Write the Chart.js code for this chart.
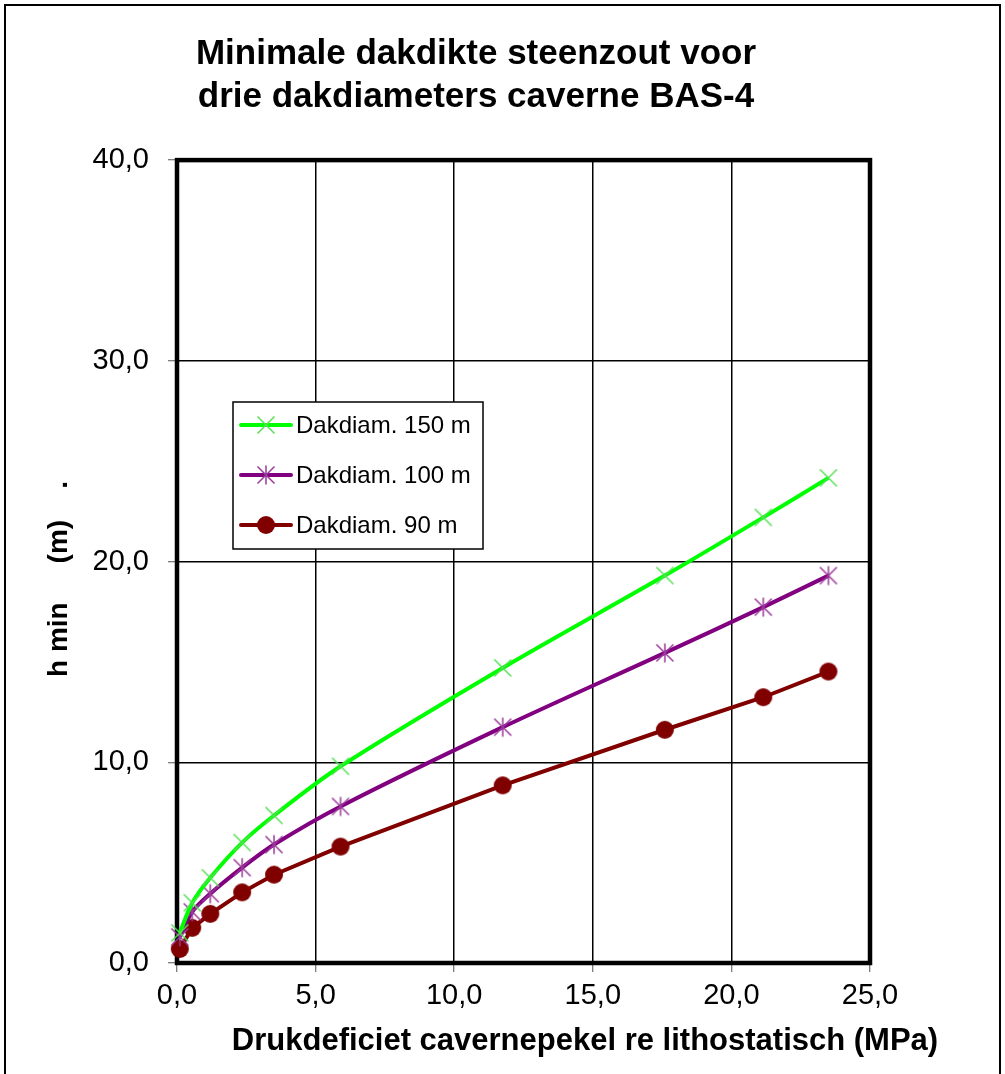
<!DOCTYPE html>
<html>
<head>
<meta charset="utf-8">
<script src="https://cdn.jsdelivr.net/npm/chart.js@4.4.1/dist/chart.umd.min.js"></script>
<style>
  html, body { margin: 0; padding: 0; background: #fff; }
  canvas { display: block; }
</style>
</head>
<body>
<canvas id="c" width="1005" height="1074"></canvas>
<script>
// Texts
const titleLines = ['Minimale dakdikte steenzout voor', 'drie dakdiameters caverne BAS-4'];
const xTitle = 'Drukdeficiet cavernepekel re lithostatisch (MPa)';
const yTitle = 'h min     (m)    .';
const seriesLabels = ['Dakdiam. 150 m', 'Dakdiam. 100 m', 'Dakdiam. 90 m'];

// Pressure deficit (MPa) and minimum roof thickness (m) per roof diameter
const drukdeficiet = [0.1, 0.55, 1.2, 2.35, 3.5, 5.9, 11.75, 17.6, 21.15, 23.5];
const hmin150 = [1.5, 3.0, 4.25, 6.0, 7.35, 9.8, 14.7, 19.3, 22.2, 24.17];
const hmin100 = [1.3, 2.55, 3.45, 4.75, 5.9, 7.8, 11.75, 15.45, 17.73, 19.3];
const hmin90  = [0.7, 1.75, 2.45, 3.52, 4.4, 5.8, 8.85, 11.62, 13.24, 14.52];

// Axis ticks
const xTicks = [0, 5, 10, 15, 20, 25];
const yTicks = [0, 10, 20, 30, 40];

const FONT = "'Liberation Sans', Arial, Helvetica, sans-serif";

function toPoints(xs, ys) { return xs.map((x, i) => ({ x: x, y: ys[i] })); }
function fmt(v) { return Number(v).toFixed(1).replace('.', ','); }

// Marker glyphs
function makeMarker(kind, color) {
  const s = 26, c = document.createElement('canvas');
  c.width = s; c.height = s;
  const g = c.getContext('2d');
  const m = s / 2;
  g.strokeStyle = color; g.fillStyle = color; g.lineWidth = 1.5;
  if (kind === 'x' || kind === 'star') {
    const r = 8.5;
    g.beginPath();
    g.moveTo(m - r, m - r); g.lineTo(m + r, m + r);
    g.moveTo(m + r, m - r); g.lineTo(m - r, m + r);
    if (kind === 'star') { g.moveTo(m, m - r - 1); g.lineTo(m, m + r + 1); }
    g.stroke();
  } else {
    g.beginPath(); g.arc(m, m, 9, 0, Math.PI * 2); g.fill();
  }
  return c;
}

const colors = ['#00ff00', '#800080', '#800000'];
const markers = [
  makeMarker('x', '#55e055'),
  makeMarker('star', '#9a3a9a'),
  makeMarker('dot', '#800000')
];
const seriesValues = [hmin150, hmin100, hmin90];
const tensions = [0.3, 0.3, 0];

const datasets = seriesLabels.map((label, i) => ({
  label: label,
  data: toPoints(drukdeficiet, seriesValues[i]),
  borderColor: colors[i],
  backgroundColor: colors[i],
  borderWidth: 4,
  pointStyle: markers[i],
  pointRadius: 9,
  pointHoverRadius: 9,
  tension: tensions[i],
  clip: false
}));

// White page with an outer frame
const pagePlugin = {
  id: 'page',
  beforeDraw(chart) {
    const ctx = chart.ctx;
    ctx.save();
    ctx.fillStyle = '#fff';
    ctx.fillRect(0, 0, chart.width, chart.height);
    ctx.strokeStyle = '#000';
    ctx.lineWidth = 2;
    ctx.strokeRect(5, 5, 995, 1100);
    ctx.restore();
  }
};

// Heavy frame round the plot area, under the series
const plotFramePlugin = {
  id: 'plotFrame',
  beforeDatasetsDraw(chart) {
    const a = chart.chartArea, ctx = chart.ctx;
    ctx.save();
    ctx.strokeStyle = '#000';
    ctx.lineWidth = 4.5;
    ctx.strokeRect(a.left, a.top, a.right - a.left, a.bottom - a.top);
    ctx.restore();
  }
};

// Axis titles
const axisTitlePlugin = {
  id: 'axisTitles',
  afterDraw(chart) {
    const ctx = chart.ctx;
    ctx.save();
    ctx.fillStyle = '#000';
    ctx.font = 'bold 31px ' + FONT;
    ctx.textAlign = 'center';
    ctx.textBaseline = 'middle';
    ctx.fillText(xTitle, 585, 1041);
    ctx.font = 'bold 28px ' + FONT;
    ctx.translate(67, 677);
    ctx.rotate(-Math.PI / 2);
    ctx.textAlign = 'left';
    ctx.textBaseline = 'alphabetic';
    ctx.fillText(yTitle, 0, 0);
    ctx.restore();
  }
};

// Boxed legend inside the plot area
const boxLegendPlugin = {
  id: 'boxLegend',
  afterDraw(chart) {
    const ctx = chart.ctx;
    const bx = 233, by = 402, bw = 250, bh = 147;
    ctx.save();
    ctx.fillStyle = '#fff';
    ctx.fillRect(bx, by, bw, bh);
    ctx.strokeStyle = '#000';
    ctx.lineWidth = 1.5;
    ctx.strokeRect(bx, by, bw, bh);
    chart.data.datasets.forEach((ds, i) => {
      const y = 425 + 50 * i;
      ctx.strokeStyle = ds.borderColor;
      ctx.lineWidth = 4;
      ctx.lineCap = 'round';
      ctx.beginPath();
      ctx.moveTo(241, y); ctx.lineTo(291, y);
      ctx.stroke();
      const mk = ds.pointStyle;
      ctx.drawImage(mk, 266 - mk.width / 2, y - mk.height / 2);
      ctx.fillStyle = '#000';
      ctx.font = '24px ' + FONT;
      ctx.textAlign = 'left';
      ctx.textBaseline = 'middle';
      ctx.fillText(ds.label, 296, y + 1);
    });
    ctx.restore();
  }
};

new Chart(document.getElementById('c'), {
  type: 'line',
  data: { datasets: datasets },
  plugins: [pagePlugin, plotFramePlugin, axisTitlePlugin, boxLegendPlugin],
  options: {
    responsive: false,
    animation: false,
    devicePixelRatio: 1,
    layout: { padding: { left: 82, right: 135, top: 0, bottom: 0 } },
    plugins: {
      legend: { display: false },
      tooltip: { enabled: false },
      title: {
        display: true,
        text: titleLines,
        color: '#000',
        font: { family: FONT, size: 35, weight: 'bold', lineHeight: 1.23 },
        padding: { top: 33, bottom: 41 }
      }
    },
    scales: {
      x: {
        type: 'linear',
        min: xTicks[0],
        max: xTicks[xTicks.length - 1],
        afterBuildTicks(scale) { scale.ticks = xTicks.map(v => ({ value: v })); },
        afterFit(scale) { scale.height = 111; },
        border: { display: false },
        grid: { color: '#000', lineWidth: 1.5, tickLength: 9, tickColor: '#555', tickWidth: 1 },
        ticks: {
          color: '#000',
          font: { family: FONT, size: 29 },
          padding: 7,
          maxRotation: 0,
          callback: v => fmt(v)
        }
      },
      y: {
        type: 'linear',
        min: yTicks[0],
        max: yTicks[yTicks.length - 1],
        afterBuildTicks(scale) { scale.ticks = yTicks.map(v => ({ value: v })); },
        afterFit(scale) { scale.width = 95; },
        border: { display: false },
        grid: { color: '#000', lineWidth: 1.5, tickLength: 9, tickColor: '#555', tickWidth: 1 },
        ticks: {
          color: '#000',
          font: { family: FONT, size: 29 },
          padding: 19,
          callback: v => fmt(v)
        }
      }
    }
  }
});
</script>
</body>
</html>
